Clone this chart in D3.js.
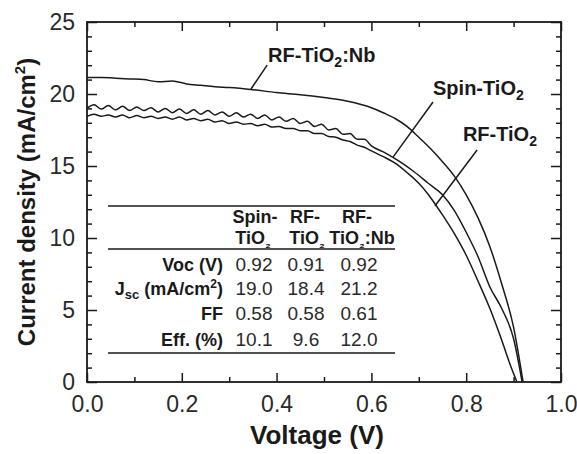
<!DOCTYPE html>
<html><head><meta charset="utf-8">
<script src="https://cdn.jsdelivr.net/npm/d3@7"></script>
<style>
html,body{margin:0;padding:0;background:#fff;}
svg{display:block;font-family:"Liberation Sans",Arial,Helvetica,sans-serif;}
</style></head>
<body><svg id="c" width="577" height="454"></svg>
<script>
// ---- data ----
const spinV = [0,0.015,0.03,0.045,0.06,0.075,0.09,0.105,0.12,0.135,0.15,0.165,0.18,0.195,0.21,0.225,0.24,0.255,0.27,0.285,0.3,0.315,0.33,0.345,0.36,0.375,0.39,0.405,0.42,0.435,0.45,0.465,0.48,0.495,0.51,0.525,0.54,0.555,0.57,0.585,0.6,0.63,0.66,0.69,0.72,0.75,0.775,0.8,0.825,0.85,0.875,0.9,0.918];
const spinJ = [19.0,19.25,18.95,19.2,18.9,19.15,18.85,19.1,18.85,19.05,18.75,19.0,18.7,18.95,18.65,18.9,18.6,18.85,18.55,18.75,18.45,18.7,18.4,18.6,18.3,18.55,18.2,18.4,18.1,18.3,17.95,18.1,17.75,17.9,17.5,17.6,17.2,17.25,16.85,16.85,16.4,15.9,15.3,14.6,13.8,13.0,11.9,10.4,8.7,6.6,5.1,3.0,0];
const rfV = [0,0.015,0.03,0.045,0.06,0.075,0.09,0.105,0.12,0.135,0.15,0.165,0.18,0.195,0.21,0.225,0.24,0.255,0.27,0.285,0.3,0.315,0.33,0.345,0.36,0.375,0.39,0.405,0.42,0.435,0.45,0.465,0.48,0.495,0.51,0.525,0.54,0.555,0.57,0.585,0.6,0.625,0.65,0.675,0.7,0.725,0.75,0.775,0.8,0.825,0.85,0.875,0.895,0.907];
const rfJ = [18.45,18.6,18.45,18.55,18.4,18.55,18.35,18.5,18.35,18.45,18.3,18.4,18.25,18.4,18.2,18.3,18.15,18.25,18.05,18.15,17.95,18.05,17.9,17.95,17.8,17.9,17.7,17.75,17.6,17.6,17.45,17.45,17.25,17.25,17.05,17.0,16.8,16.7,16.45,16.3,16.05,15.65,15.2,14.55,13.8,12.8,11.6,10.3,8.8,7.0,5.1,2.9,1.0,0];
const nbV = [0,0.03,0.06,0.09,0.12,0.15,0.18,0.21,0.24,0.27,0.3,0.35,0.4,0.45,0.5,0.55,0.6,0.625,0.65,0.675,0.7,0.725,0.75,0.775,0.8,0.825,0.85,0.875,0.9,0.92];
const nbJ = [21.15,21.15,21.1,21.05,21.0,20.85,20.9,20.7,20.6,20.5,20.45,20.3,20.1,19.95,19.75,19.5,19.05,18.7,18.3,17.75,17.0,16.2,15.3,14.3,13.0,11.4,9.4,6.8,3.8,0];

const xTicks = [0,0.2,0.4,0.6,0.8,1.0];
const xMinor = [0.1,0.3,0.5,0.7,0.9];
const yTicks = [0,5,10,15,20,25];
const yMinor = [1,2,3,4,6,7,8,9,11,12,13,14,16,17,18,19,21,22,23,24];

const tableCols = [["Spin-","TiO","₂",""],["RF-","TiO","₂",""],["RF-","TiO","₂",":Nb"]];
const tableRows = ["Voc (V)","Jsc","FF","Eff. (%)"];
const tableVals = [["0.92","0.91","0.92"],["19.0","18.4","21.2"],["0.58","0.58","0.61"],["10.1","9.6","12.0"]];

// ---- drawing ----
const svg = d3.select("#c");
const L=87,R=561,T=22,B=382;
const x = d3.scaleLinear().domain([0,1]).range([L,R]);
const y = d3.scaleLinear().domain([0,25]).range([B,T]);
const ink = "#1a1a1a";

function ax(gen, tr){ const g = svg.append("g").attr("transform",tr).call(gen); g.select(".domain").remove(); g.selectAll("line").attr("stroke",ink).attr("stroke-width",1.5); return g;}

const fmt = d3.format(".1f");
const gb = ax(d3.axisBottom(x).tickValues(xTicks).tickSizeInner(-9).tickSizeOuter(0).tickPadding(14).tickFormat(fmt), `translate(0,${B})`);
ax(d3.axisBottom(x).tickValues(xMinor).tickSizeInner(-5).tickSizeOuter(0).tickFormat(""), `translate(0,${B})`);
ax(d3.axisTop(x).tickValues(xTicks).tickSizeInner(-9).tickSizeOuter(0).tickFormat(""), `translate(0,${T})`);
ax(d3.axisTop(x).tickValues(xMinor).tickSizeInner(-5).tickSizeOuter(0).tickFormat(""), `translate(0,${T})`);
const gl = ax(d3.axisLeft(y).tickValues(yTicks).tickSizeInner(-10).tickSizeOuter(0).tickPadding(12).tickFormat(d3.format("d")), `translate(${L},0)`);
ax(d3.axisLeft(y).tickValues(yMinor).tickSizeInner(-5).tickSizeOuter(0).tickFormat(""), `translate(${L},0)`);
ax(d3.axisRight(y).tickValues(yTicks).tickSizeInner(-10).tickSizeOuter(0).tickFormat(""), `translate(${R},0)`);
ax(d3.axisRight(y).tickValues(yMinor).tickSizeInner(-5).tickSizeOuter(0).tickFormat(""), `translate(${R},0)`);
[gb,gl].forEach(g=>g.selectAll("text").attr("font-size",23).attr("fill","#2a2a2a").attr("font-family","Liberation Sans, Arial, sans-serif"));

svg.append("rect").attr("x",L).attr("y",T).attr("width",R-L).attr("height",B-T)
  .attr("fill","none").attr("stroke",ink).attr("stroke-width",1.8);

// curves
const line = d3.line().x(d=>x(d[0])).y(d=>y(d[1])).curve(d3.curveMonotoneX);
[[spinV,spinJ],[rfV,rfJ],[nbV,nbJ]].forEach(([V,J])=>{
  svg.append("path").datum(V.map((v,i)=>[v,J[i]])).attr("d",line)
    .attr("fill","none").attr("stroke",ink).attr("stroke-width",1.5);
});

// annotations (data coords)
function label(vx, jy, main, sub, tail, lead){
  const t = svg.append("text").attr("x",x(vx)).attr("y",y(jy)).attr("font-size",20).attr("font-weight","bold").attr("fill",ink);
  t.append("tspan").text(main);
  t.append("tspan").attr("font-size",14).attr("dy",5).text(sub);
  if(tail) t.append("tspan").attr("dy",-5).text(tail);
  svg.append("line").attr("x1",x(lead[0])).attr("y1",y(lead[1])).attr("x2",x(lead[2])).attr("y2",y(lead[3]))
    .attr("stroke",ink).attr("stroke-width",1.5);
}
label(0.382,22.2,"RF-TiO","2",":Nb",[0.380,22.0,0.346,20.35]);
label(0.730,19.93,"Spin-TiO","2","",[0.730,19.44,0.646,15.63]);
label(0.793,16.74,"RF-TiO","2","",[0.823,16.11,0.734,12.22]);

// axis titles
svg.append("text").attr("x",317).attr("y",444).attr("text-anchor","middle").attr("font-size",26).attr("font-weight","bold").attr("fill",ink).text("Voltage (V)");
const yt = svg.append("text").attr("transform",`translate(35,${(T+B)/2}) rotate(-90)`).attr("text-anchor","middle")
  .attr("font-size",24).attr("font-weight","bold").attr("fill",ink);
yt.append("tspan").text("Current density (mA/cm");
yt.append("tspan").attr("font-size",15).attr("dy",-10).text("2");
yt.append("tspan").attr("dy",10).text(")");

// inset table
const tb = svg.append("g");
[206,249,353].forEach(yy=>tb.append("line").attr("x1",108).attr("x2",395).attr("y1",yy).attr("y2",yy).attr("stroke",ink).attr("stroke-width",1.6));
const colX = [254,306,359];
const hdrX1 = [255,305,357], hdrX2 = [253,307,362];
tableCols.forEach((c,i)=>{
  tb.append("text").attr("x",hdrX1[i]).attr("y",223).attr("text-anchor","middle").attr("font-size",18).attr("font-weight","bold").attr("fill",ink).text(c[0]);
  const t = tb.append("text").attr("x",hdrX2[i]).attr("y",244).attr("text-anchor","middle").attr("font-size",18).attr("font-weight","bold").attr("fill",ink);
  t.append("tspan").text(c[1]);
  t.append("tspan").attr("font-size",13).attr("dy",4).text(c[2]);
  if(c[3]) t.append("tspan").attr("dy",-4).text(c[3]);
});
const rowY = [271,295,320,346];
tableRows.forEach((r,i)=>{
  const t = tb.append("text").attr("x",223).attr("y",rowY[i]).attr("text-anchor","end").attr("font-size",18).attr("font-weight","bold").attr("fill",ink);
  if(r==="Jsc"){
    t.append("tspan").text("J");
    t.append("tspan").attr("font-size",13).attr("dy",4).text("sc");
    t.append("tspan").attr("dy",-4).text(" (mA/cm");
    t.append("tspan").attr("font-size",12).attr("dy",-7).text("2");
    t.append("tspan").attr("dy",7).text(")");
  } else t.text(r);
  tableVals[i].forEach((v,j)=>{
    tb.append("text").attr("x",colX[j]).attr("y",rowY[i]).attr("text-anchor","middle").attr("font-size",19).attr("fill","#2a2a2a").text(v);
  });
});
</script></body></html>
